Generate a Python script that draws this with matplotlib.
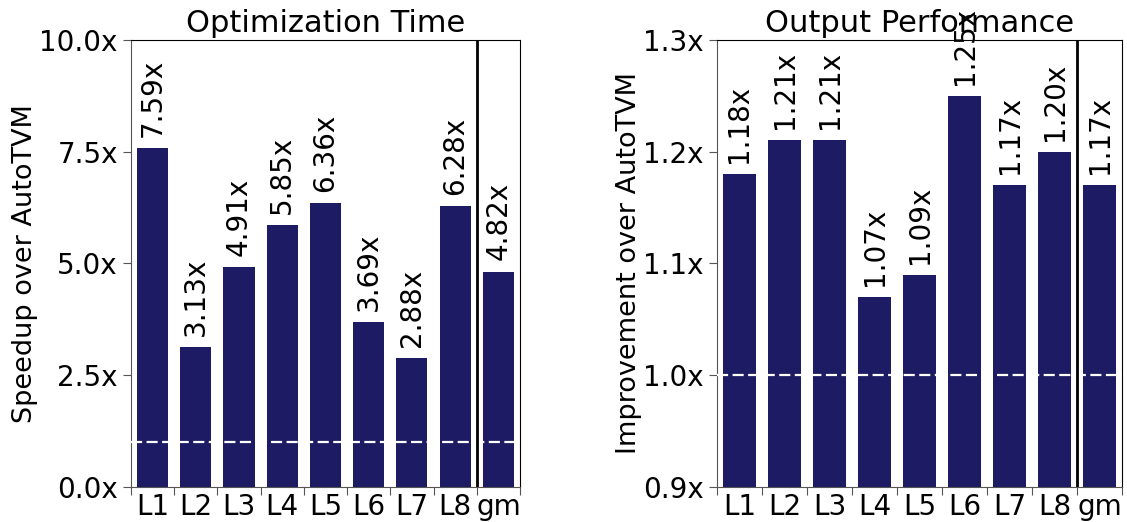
import matplotlib
matplotlib.use("Agg")
import matplotlib.pyplot as plt
import numpy as np

labels = ["L1", "L2", "L3", "L4", "L5", "L6", "L7", "L8", "gm"]
speedup = [7.59, 3.13, 4.91, 5.85, 6.36, 3.69, 2.88, 6.28, 4.82]
improvement = [1.18, 1.21, 1.21, 1.07, 1.09, 1.25, 1.17, 1.20, 1.17]

speedup_ticks = [0.0, 2.5, 5.0, 7.5, 10.0]
improvement_ticks = [0.9, 1.0, 1.1, 1.2, 1.3]

BAR_COLOR = "#1c1b64"
SPINE_COLOR = "#555555"

plt.rcParams["font.family"] = "DejaVu Sans"
plt.rcParams["font.size"] = 20


def draw_panel(ax, values, yticks, title, ylabel):
    """Bar panel with value labels, a baseline at 1x and a divider before gm"""
    x = np.arange(len(values))
    ax.bar(x, values, width=0.72, color=BAR_COLOR, zorder=2)

    for xi, v in zip(x, values):
        ax.annotate(f"{v:.2f}x", (xi, v), xytext=(0, 8), textcoords="offset points",
                    rotation=90, ha="center", va="bottom", fontsize=20)

    # 1x reference and separator for the geometric mean
    ax.axhline(1.0, color="white", lw=1.6, ls=(0, (5, 2)), zorder=3)
    ax.axvline(len(values) - 1.5, color="black", lw=2, zorder=3)

    ax.set_xlim(-0.5, len(values) - 0.5)
    ax.set_ylim(yticks[0], yticks[-1])
    ax.set_yticks(yticks)
    ax.set_yticklabels([f"{t:.1f}x" for t in yticks])

    # tick marks at the bar boundaries, labels centred under the bars
    ax.set_xticks(np.arange(-0.5, len(values)))
    ax.set_xticklabels([])
    ax.set_xticks(x, minor=True)
    ax.set_xticklabels(labels, minor=True)
    ax.tick_params(axis="x", which="minor", length=0, pad=4)
    ax.tick_params(axis="both", which="major", length=6, color=SPINE_COLOR)

    for s in ax.spines.values():
        s.set_color(SPINE_COLOR)
    ax.spines["top"].set_color("black")
    ax.spines["right"].set_color("black")

    ax.set_title(title, fontsize=22)
    ax.set_ylabel(ylabel, fontsize=19.5, labelpad=1)


fig = plt.figure(figsize=(11.27, 5.22), dpi=100)
ax1 = fig.add_axes([0.1162, 0.067, 0.3452, 0.8566])
ax2 = fig.add_axes([0.6362, 0.067, 0.3594, 0.8566])

draw_panel(ax1, speedup, speedup_ticks, "Optimization Time", "Speedup over AutoTVM")
draw_panel(ax2, improvement, improvement_ticks, "Output Performance", "Improvement over AutoTVM")

fig.savefig("out.png", dpi=100)
